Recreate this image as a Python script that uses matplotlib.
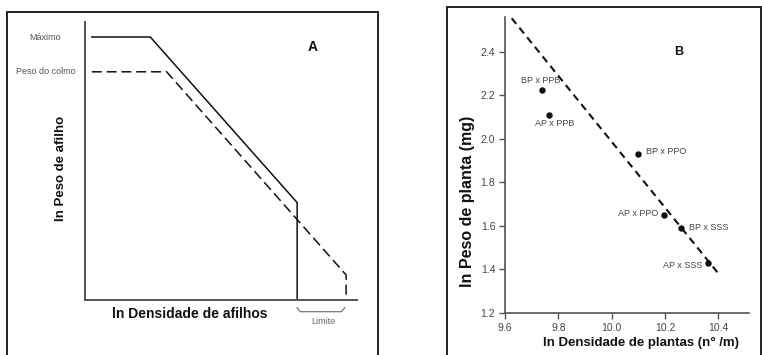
import matplotlib
matplotlib.use("Agg")
import matplotlib.pyplot as plt
from matplotlib.patches import Rectangle

plt.rcParams['font.family'] = ['Liberation Sans', 'DejaVu Sans']

# ---- Panel A (conceptual diagram) ----
max_x = [0.25, 2.4, 7.8, 7.8]
max_y = [9.45, 9.45, 3.5, 0.0]
colmo_x = [0.25, 3.0, 9.6, 9.6]
colmo_y = [8.2, 8.2, 0.9, 0.0]
brace_x = [7.8, 7.92, 9.43, 9.55]
brace_y = [-0.28, -0.42, -0.42, -0.28]

# ---- Panel B (data) ----
labels = ["BP x PPB", "AP x PPB", "BP x PPO", "AP x PPO", "BP x SSS", "AP x SSS"]
dens = [9.74, 9.766, 10.10, 10.195, 10.26, 10.362]
peso = [2.223, 2.111, 1.93, 1.652, 1.592, 1.428]
fit_x = [9.625, 10.405]
fit_y = [2.553, 1.374]
xticks = [9.6, 9.8, 10.0, 10.2, 10.4]
yticks = [1.2, 1.4, 1.6, 1.8, 2.0, 2.2, 2.4]

W, H = 762, 355
fig = plt.figure(figsize=(W / 100, H / 100), dpi=100)

# outer frames
fig.add_artist(Rectangle((7.3 / W, -0.2), 370.4 / W, 1.2 - 11.7 / H,
                         transform=fig.transFigure, fill=False, lw=1.4, ec='#222222'))
fig.add_artist(Rectangle((446.7 / W, -0.2), 314.0 / W, 1.2 - 7.3 / H,
                         transform=fig.transFigure, fill=False, lw=1.4, ec='#222222'))

spine_c = '#555555'

# ---------- Panel A ----------
axA = fig.add_axes([85 / W, (H - 300) / H, 272 / W, 278.3 / H])
axA.plot(max_x, max_y, color='#111111', lw=1.1)
axA.plot(colmo_x, colmo_y, color='#111111', lw=1.1, dashes=(6.5, 3.2))
axA.plot(brace_x, brace_y, color='#777777', lw=0.9, clip_on=False)
axA.set_xlim(0, 10)
axA.set_ylim(0, 10)
axA.set_xticks([])
axA.set_yticks([])
for s in ['top', 'right']:
    axA.spines[s].set_visible(False)
for s in ['left', 'bottom']:
    axA.spines[s].set_color(spine_c)
    axA.spines[s].set_linewidth(1.4)
axA.text(-1.47, 9.44, "Máximo", ha='center', va='center', fontsize=6.5,
         color='#555555', clip_on=False)
axA.text(-1.43, 8.2, "Peso do colmo", ha='center', va='center', fontsize=6.5,
         color='#555555', clip_on=False)
axA.text(8.38, 9.09, "A", ha='center', va='center', fontsize=10,
         fontweight='bold', color='#111111')
axA.text(8.76, -0.78, "Limite", ha='center', va='center', fontsize=6.5,
         color='#666666', clip_on=False)
axA.set_xlabel("ln Densidade de afilhos", fontsize=10, fontweight='bold',
               color='#111111')
axA.xaxis.set_label_coords(0.386, -0.050)
axA.xaxis.label.set_va('center')
axA.set_ylabel("ln Peso de afilho", fontsize=9.5, fontweight='bold',
               color='#111111')
axA.yaxis.set_label_coords(-0.088, 0.474)
axA.yaxis.label.set_va('center')

# ---------- Panel B ----------
axB = fig.add_axes([505 / W, (H - 313) / H, 244 / W, 296.3 / H])
axB.plot(fit_x, fit_y, color='#111111', lw=1.5, dashes=(3.5, 2.4))
axB.plot(dens, peso, 'o', color='#111111', ms=3.6)
offsets = {
    "BP x PPB": (-0.005, 0.045, 'center'),
    "AP x PPB": (0.02, -0.04, 'center'),
    "BP x PPO": (0.03, 0.01, 'left'),
    "AP x PPO": (-0.02, 0.005, 'right'),
    "BP x SSS": (0.03, 0.0, 'left'),
    "AP x SSS": (-0.02, -0.008, 'right'),
}
for lab, x, y in zip(labels, dens, peso):
    dx, dy, ha = offsets[lab]
    axB.text(x + dx, y + dy, lab, ha=ha, va='center', fontsize=6.5,
             color='#444444')
axB.text(10.25, 2.4, "B", ha='center', va='center', fontsize=9,
         fontweight='bold', color='#111111')
axB.set_xlim(9.6, 10.515)
axB.set_ylim(1.2, 2.56)
axB.set_xticks(xticks)
axB.set_yticks(yticks)
axB.set_xticklabels([f"{v:.1f}" for v in xticks])
axB.set_yticklabels([f"{v:.1f}" for v in yticks])
axB.tick_params(direction='out', length=4, width=1, color=spine_c,
                labelsize=7.5, labelcolor='#444444', pad=3)
for s in ['top', 'right']:
    axB.spines[s].set_visible(False)
for s in ['left', 'bottom']:
    axB.spines[s].set_color(spine_c)
    axB.spines[s].set_linewidth(1.2)
axB.set_xlabel("ln Densidade de plantas (n° /m)", fontsize=9.5,
               fontweight='bold', color='#111111')
axB.xaxis.set_label_coords(0.559, -0.101)
axB.xaxis.label.set_va('center')
axB.set_ylabel("ln Peso de planta (mg)", fontsize=11.5, fontweight='bold',
               color='#111111')
axB.yaxis.set_label_coords(-0.152, 0.376)
axB.yaxis.label.set_va('center')

fig.savefig("out.png", dpi=100)
